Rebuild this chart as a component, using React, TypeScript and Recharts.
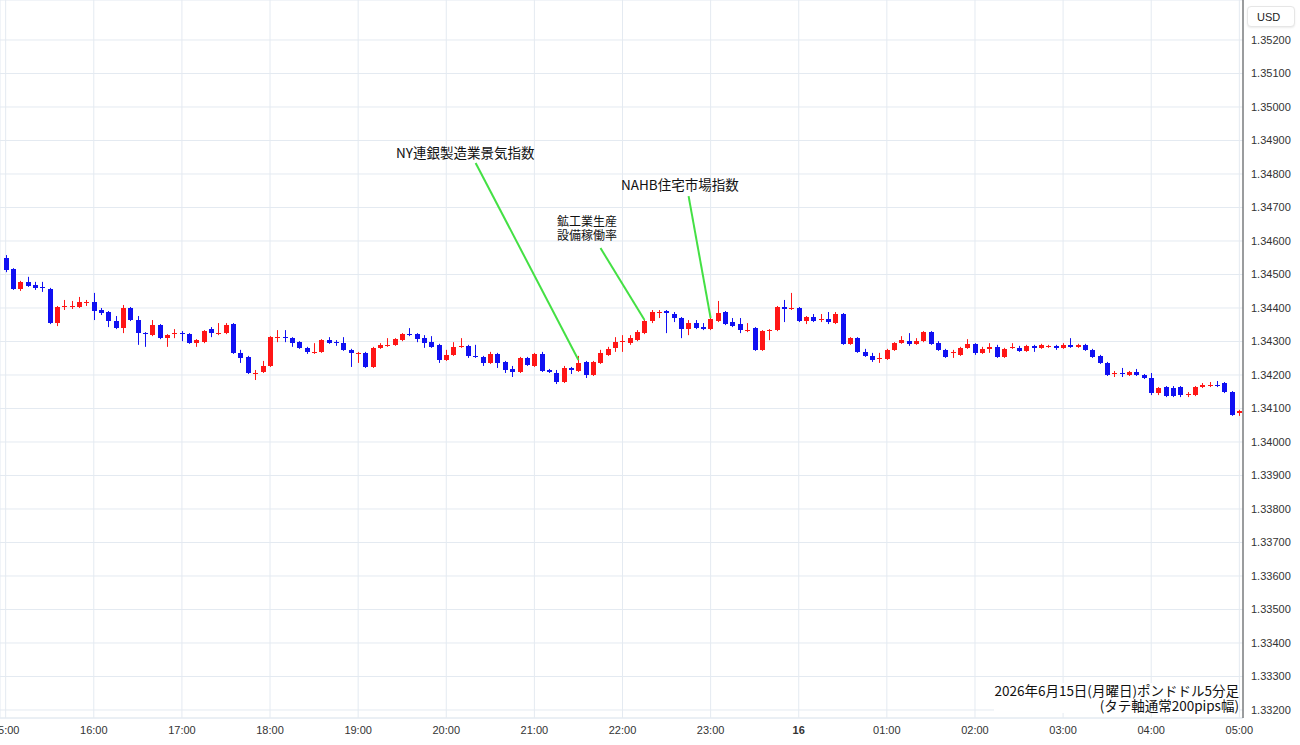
import React from 'react';
import { ComposedChart, Bar, XAxis, YAxis, CartesianGrid, ReferenceLine } from 'recharts';

// ポンドドル 5分足 15:00 〜 05:00
const opens = [
  1.34549, 1.34516, 1.34457, 1.34478, 1.34469, 1.34463, 1.34457, 1.34355, 1.34403, 1.34403, 1.34403, 1.34415,
  1.34418, 1.34394, 1.34388, 1.34361, 1.34340, 1.34400, 1.34364, 1.34325, 1.34319, 1.34349, 1.34310, 1.34322,
  1.34325, 1.34322, 1.34295, 1.34298, 1.34337, 1.34322, 1.34325, 1.34352, 1.34266, 1.34254, 1.34203, 1.34209,
  1.34227, 1.34310, 1.34313, 1.34310, 1.34298, 1.34281, 1.34266, 1.34269, 1.34304, 1.34298, 1.34295, 1.34275,
  1.34263, 1.34266, 1.34224, 1.34281, 1.34287, 1.34290, 1.34304, 1.34322, 1.34322, 1.34310, 1.34298, 1.34290,
  1.34245, 1.34260, 1.34284, 1.34287, 1.34257, 1.34254, 1.34236, 1.34263, 1.34239, 1.34218, 1.34209, 1.34251,
  1.34227, 1.34263, 1.34215, 1.34206, 1.34179, 1.34221, 1.34212, 1.34239, 1.34200, 1.34236, 1.34260, 1.34281,
  1.34298, 1.34295, 1.34304, 1.34325, 1.34361, 1.34385, 1.34391, 1.34382, 1.34370, 1.34337, 1.34355, 1.34343,
  1.34337, 1.34361, 1.34388, 1.34358, 1.34352, 1.34331, 1.34340, 1.34275, 1.34331, 1.34334, 1.34403, 1.34397,
  1.34400, 1.34361, 1.34373, 1.34364, 1.34367, 1.34355, 1.34382, 1.34293, 1.34310, 1.34269, 1.34257, 1.34248,
  1.34248, 1.34275, 1.34295, 1.34301, 1.34293, 1.34301, 1.34328, 1.34295, 1.34275, 1.34266, 1.34260, 1.34281,
  1.34293, 1.34266, 1.34278, 1.34284, 1.34254, 1.34281, 1.34281, 1.34272, 1.34287, 1.34281, 1.34284, 1.34287,
  1.34281, 1.34290, 1.34284, 1.34290, 1.34275, 1.34257, 1.34236, 1.34203, 1.34206, 1.34200, 1.34209, 1.34200,
  1.34191, 1.34146, 1.34164, 1.34161, 1.34164, 1.34140, 1.34140, 1.34164, 1.34167, 1.34170, 1.34176, 1.34149,
  1.34087,
];

const highs = [
  1.34558, 1.34519, 1.34481, 1.34493, 1.34478, 1.34478, 1.34460, 1.34406, 1.34424, 1.34421, 1.34433, 1.34424,
  1.34445, 1.34400, 1.34391, 1.34376, 1.34409, 1.34403, 1.34376, 1.34328, 1.34364, 1.34352, 1.34322, 1.34337,
  1.34331, 1.34325, 1.34307, 1.34334, 1.34343, 1.34355, 1.34355, 1.34355, 1.34275, 1.34257, 1.34215, 1.34242,
  1.34316, 1.34334, 1.34334, 1.34313, 1.34301, 1.34284, 1.34295, 1.34307, 1.34313, 1.34304, 1.34313, 1.34278,
  1.34269, 1.34269, 1.34284, 1.34295, 1.34310, 1.34310, 1.34325, 1.34340, 1.34325, 1.34319, 1.34316, 1.34293,
  1.34275, 1.34298, 1.34310, 1.34290, 1.34290, 1.34257, 1.34269, 1.34266, 1.34242, 1.34227, 1.34254, 1.34254,
  1.34266, 1.34269, 1.34218, 1.34215, 1.34227, 1.34224, 1.34257, 1.34242, 1.34242, 1.34275, 1.34284, 1.34313,
  1.34319, 1.34319, 1.34334, 1.34364, 1.34394, 1.34394, 1.34394, 1.34388, 1.34373, 1.34364, 1.34364, 1.34355,
  1.34370, 1.34421, 1.34391, 1.34370, 1.34370, 1.34355, 1.34343, 1.34334, 1.34337, 1.34406, 1.34424, 1.34445,
  1.34403, 1.34376, 1.34382, 1.34382, 1.34388, 1.34388, 1.34385, 1.34313, 1.34313, 1.34278, 1.34266, 1.34266,
  1.34278, 1.34298, 1.34316, 1.34325, 1.34310, 1.34331, 1.34331, 1.34301, 1.34278, 1.34275, 1.34284, 1.34307,
  1.34295, 1.34284, 1.34295, 1.34290, 1.34281, 1.34295, 1.34287, 1.34290, 1.34290, 1.34293, 1.34290, 1.34290,
  1.34295, 1.34310, 1.34293, 1.34293, 1.34278, 1.34260, 1.34239, 1.34212, 1.34221, 1.34212, 1.34218, 1.34203,
  1.34206, 1.34164, 1.34167, 1.34167, 1.34167, 1.34149, 1.34167, 1.34176, 1.34179, 1.34182, 1.34179, 1.34152,
  1.34096,
];

const lows = [
  1.34507, 1.34454, 1.34451, 1.34463, 1.34454, 1.34448, 1.34352, 1.34346, 1.34394, 1.34397, 1.34400, 1.34406,
  1.34364, 1.34379, 1.34343, 1.34337, 1.34325, 1.34361, 1.34290, 1.34284, 1.34316, 1.34307, 1.34284, 1.34310,
  1.34301, 1.34293, 1.34284, 1.34295, 1.34313, 1.34319, 1.34322, 1.34263, 1.34236, 1.34203, 1.34185, 1.34206,
  1.34224, 1.34298, 1.34298, 1.34284, 1.34278, 1.34263, 1.34263, 1.34266, 1.34293, 1.34287, 1.34272, 1.34224,
  1.34236, 1.34221, 1.34221, 1.34278, 1.34284, 1.34287, 1.34301, 1.34316, 1.34298, 1.34281, 1.34281, 1.34236,
  1.34242, 1.34257, 1.34281, 1.34251, 1.34251, 1.34227, 1.34233, 1.34221, 1.34206, 1.34194, 1.34206, 1.34227,
  1.34224, 1.34209, 1.34206, 1.34173, 1.34176, 1.34203, 1.34209, 1.34191, 1.34197, 1.34233, 1.34257, 1.34269,
  1.34269, 1.34290, 1.34301, 1.34322, 1.34355, 1.34370, 1.34325, 1.34358, 1.34310, 1.34319, 1.34337, 1.34334,
  1.34334, 1.34358, 1.34349, 1.34343, 1.34325, 1.34328, 1.34272, 1.34272, 1.34304, 1.34331, 1.34358, 1.34394,
  1.34358, 1.34352, 1.34358, 1.34358, 1.34352, 1.34352, 1.34290, 1.34290, 1.34266, 1.34254, 1.34239, 1.34236,
  1.34245, 1.34272, 1.34293, 1.34287, 1.34290, 1.34298, 1.34290, 1.34272, 1.34251, 1.34251, 1.34257, 1.34278,
  1.34260, 1.34263, 1.34266, 1.34251, 1.34251, 1.34278, 1.34269, 1.34269, 1.34269, 1.34278, 1.34281, 1.34275,
  1.34278, 1.34281, 1.34281, 1.34272, 1.34251, 1.34233, 1.34197, 1.34194, 1.34194, 1.34197, 1.34197, 1.34188,
  1.34140, 1.34140, 1.34134, 1.34134, 1.34134, 1.34134, 1.34137, 1.34161, 1.34164, 1.34164, 1.34146, 1.34078,
  1.34078,
];

const closes = [
  1.34513, 1.34457, 1.34478, 1.34466, 1.34460, 1.34460, 1.34355, 1.34403, 1.34406, 1.34406, 1.34418, 1.34418,
  1.34391, 1.34385, 1.34361, 1.34340, 1.34400, 1.34364, 1.34325, 1.34322, 1.34349, 1.34310, 1.34319, 1.34325,
  1.34322, 1.34295, 1.34304, 1.34331, 1.34325, 1.34325, 1.34349, 1.34266, 1.34251, 1.34206, 1.34206, 1.34227,
  1.34313, 1.34313, 1.34310, 1.34295, 1.34281, 1.34269, 1.34269, 1.34304, 1.34295, 1.34295, 1.34275, 1.34266,
  1.34266, 1.34224, 1.34281, 1.34290, 1.34290, 1.34307, 1.34322, 1.34319, 1.34307, 1.34295, 1.34284, 1.34245,
  1.34260, 1.34284, 1.34287, 1.34257, 1.34254, 1.34236, 1.34263, 1.34236, 1.34215, 1.34209, 1.34251, 1.34230,
  1.34263, 1.34212, 1.34209, 1.34179, 1.34221, 1.34215, 1.34236, 1.34200, 1.34239, 1.34266, 1.34278, 1.34298,
  1.34301, 1.34310, 1.34328, 1.34361, 1.34388, 1.34388, 1.34385, 1.34370, 1.34337, 1.34355, 1.34340, 1.34337,
  1.34367, 1.34385, 1.34352, 1.34346, 1.34334, 1.34334, 1.34275, 1.34331, 1.34334, 1.34403, 1.34397, 1.34400,
  1.34361, 1.34373, 1.34361, 1.34367, 1.34358, 1.34382, 1.34293, 1.34310, 1.34269, 1.34257, 1.34245, 1.34251,
  1.34275, 1.34295, 1.34304, 1.34293, 1.34301, 1.34328, 1.34293, 1.34275, 1.34254, 1.34269, 1.34281, 1.34293,
  1.34266, 1.34278, 1.34284, 1.34254, 1.34278, 1.34284, 1.34272, 1.34287, 1.34281, 1.34290, 1.34287, 1.34281,
  1.34290, 1.34284, 1.34290, 1.34275, 1.34254, 1.34236, 1.34200, 1.34206, 1.34203, 1.34209, 1.34200, 1.34191,
  1.34146, 1.34161, 1.34137, 1.34137, 1.34140, 1.34143, 1.34164, 1.34170, 1.34170, 1.34167, 1.34149, 1.34081,
  1.34093,
];

const hourTicks = [
  '15:00', '16:00', '17:00', '18:00', '19:00', '20:00', '21:00', '22:00',
  '23:00', '00:00', '01:00', '02:00', '03:00', '04:00', '05:00',
];

const priceTicks = [
  1.332, 1.333, 1.334, 1.335, 1.336, 1.337, 1.338, 1.339, 1.340, 1.341, 1.342,
  1.343, 1.344, 1.345, 1.346, 1.347, 1.348, 1.349, 1.350, 1.351, 1.352,
];

const RED = '#ff1616';
const BLUE = '#1010f2';
const GREEN = '#44e044';
const GRID = '#e4eaf1';
const JP = "'Noto Sans CJK JP', sans-serif";

const pad = (n: number) => (n < 10 ? '0' + n : '' + n);
const timeOf = (i: number) => {
  const m = 15 * 60 + i * 5;
  return pad(Math.floor(m / 60) % 24) + ':' + pad(m % 60);
};

const data = opens.map((o, i) => ({
  time: timeOf(i),
  open: o,
  high: highs[i],
  low: lows[i],
  close: closes[i],
  range: [lows[i], highs[i]],
}));

const Candle = (props: any) => {
  const { x, y, width, height, payload } = props;
  const top = Math.min(y, y + height);
  const h = Math.abs(height);
  const { open, close, high, low } = payload;
  const color = close >= open ? RED : BLUE;
  const k = h / (high - low || 1e-9);
  const py = (p: number) => top + (high - p) * k;
  const bTop = py(Math.max(open, close));
  const bBot = py(Math.min(open, close));
  const cx = Math.round(x + width / 2);
  return (
    <g>
      <line x1={cx + 0.5} x2={cx + 0.5} y1={top} y2={top + h} stroke={color} strokeWidth={1} />
      <rect x={cx - 2} y={Math.round(bTop)} width={5} height={Math.max(1, Math.round(bBot - bTop))} fill={color} />
    </g>
  );
};

const TimeTick = (props: any) => {
  const { x, y, payload } = props;
  const day = payload.value === '00:00';
  return (
    <text x={x} y={y} dy="0.71em" textAnchor="middle" fontSize={11} fill="#333" fontWeight={day ? 700 : 400}>
      {day ? '16' : payload.value}
    </text>
  );
};

const noteStyle: React.CSSProperties = {
  position: 'absolute',
  fontSize: 13.5,
  color: '#111',
  whiteSpace: 'nowrap',
  lineHeight: '16px',
  fontFamily: JP,
};

export default function App() {
  return (
    <div
      style={{
        position: 'absolute',
        left: 0,
        top: 0,
        width: 1300,
        height: 745,
        background: '#fff',
        fontFamily: "'Liberation Sans', Arial, 'Noto Sans CJK JP', sans-serif",
        overflow: 'hidden',
      }}
    >
      <ComposedChart width={1300} height={745} data={data} margin={{ top: 0, right: 0, bottom: 0, left: 0 }}>
        <CartesianGrid stroke={GRID} vertical horizontal />
        <XAxis
          dataKey="time"
          ticks={hourTicks}
          interval={0}
          height={27}
          padding={{ left: 2, right: 0 }}
          tickLine={false}
          axisLine={{ stroke: GRID }}
          tick={<TimeTick />}
        />
        <YAxis
          orientation="right"
          type="number"
          width={57}
          domain={[1.331761, 1.353194]}
          allowDataOverflow
          ticks={priceTicks}
          tickFormatter={(v: number) => v.toFixed(5)}
          tickLine={false}
          axisLine={{ stroke: '#444' }}
          tick={{ fontSize: 11, fill: '#333' }}
        />
        <Bar dataKey="range" barSize={5} shape={<Candle />} isAnimationActive={false} />
        <ReferenceLine
          segment={[{ x: '20:20', y: 1.34833 }, { x: '21:30', y: 1.34245 }]}
          stroke={GREEN}
          strokeWidth={2}
          ifOverflow="visible"
        />
        <ReferenceLine
          segment={[{ x: '21:45', y: 1.34579 }, { x: '22:15', y: 1.34364 }]}
          stroke={GREEN}
          strokeWidth={2}
          ifOverflow="visible"
        />
        <ReferenceLine
          segment={[{ x: '22:45', y: 1.34734 }, { x: '23:00', y: 1.3437 }]}
          stroke={GREEN}
          strokeWidth={2}
          ifOverflow="visible"
        />
      </ComposedChart>

      <div style={{ ...noteStyle, left: 396, top: 144 }}>NY連銀製造業景気指数</div>
      <div style={{ ...noteStyle, fontSize: 12, lineHeight: '14px', left: 557, top: 214 }}>
        鉱工業生産
        <br />
        設備稼働率
      </div>
      <div style={{ ...noteStyle, left: 621, top: 176 }}>NAHB住宅市場指数</div>

      <div
        style={{
          position: 'absolute',
          right: 61,
          top: 683,
          textAlign: 'right',
          fontSize: 13.5,
          lineHeight: '15px',
          color: '#111',
          background: '#fff',
          fontFamily: JP,
        }}
      >
        2026年6月15日(月曜日)ポンドドル5分足
        <br />
        (タテ軸通常200pips幅)
      </div>

      <div
        style={{
          position: 'absolute',
          left: 1247,
          top: 6,
          width: 48,
          height: 21,
          borderRadius: 4,
          border: '1px solid #e6e6e6',
          boxShadow: '0 1px 2px rgba(0,0,0,0.08)',
          background: '#fff',
          fontSize: 11,
          lineHeight: '21px',
          paddingLeft: 9,
          boxSizing: 'border-box',
          color: '#222',
        }}
      >
        USD
      </div>
    </div>
  );
}
